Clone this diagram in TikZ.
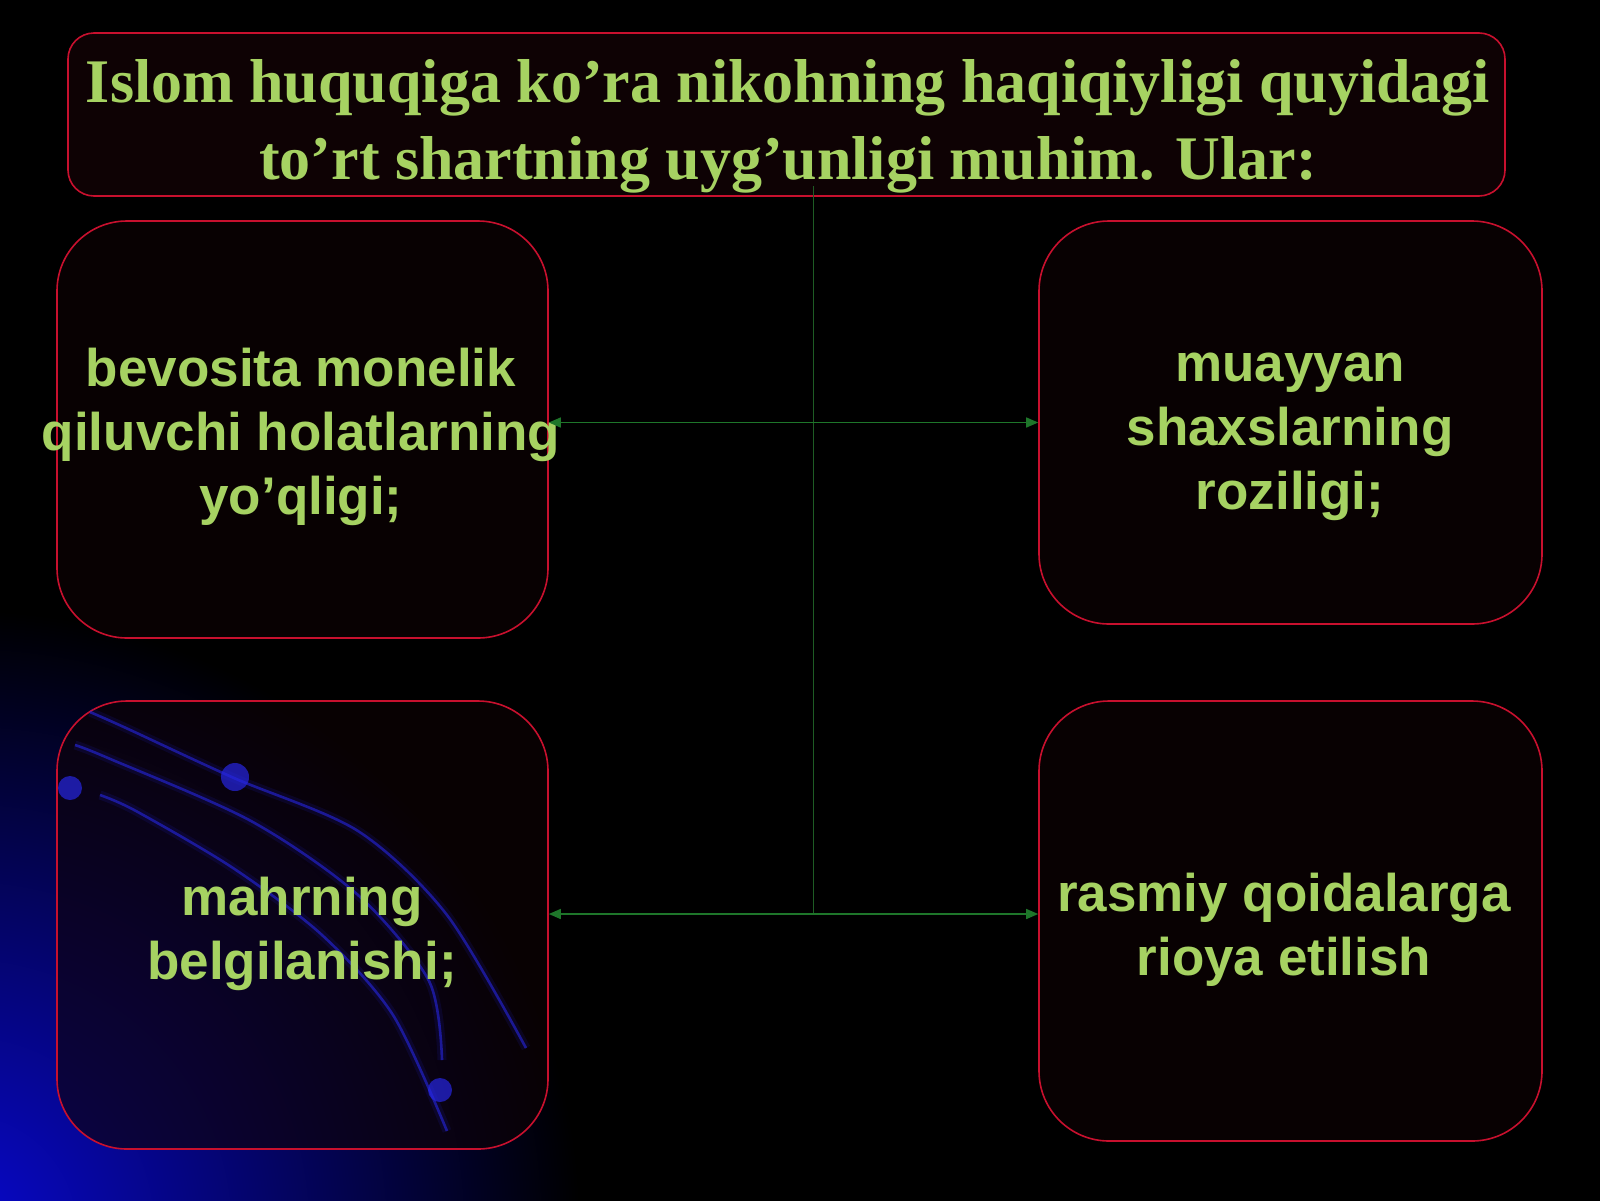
\documentclass[tikz,border=0pt]{standalone}
\usepackage{fontspec}
\setmainfont{Liberation Serif}
\setsansfont{Liberation Sans}
\usetikzlibrary{arrows.meta,calc}
\definecolor{txtgreen}{RGB}{166,210,98}
\definecolor{lngreen}{RGB}{30,118,42}
\definecolor{vgreen}{RGB}{30,92,36}
\definecolor{bordred}{RGB}{200,16,46}
\definecolor{boxfill}{RGB}{14,2,4}
\definecolor{glow}{RGB}{8,8,205}
\definecolor{arcblue}{RGB}{38,38,225}
\tikzset{
  card/.style={draw=bordred, line width=1.6pt, fill=boxfill, fill opacity=0.6,
    rounded corners=70pt},
  cardtext/.style={align=center, text=txtgreen, inner sep=0pt,
    font=\sffamily\bfseries\fontsize{53}{64}\selectfont},
  titlebox/.style={draw=bordred, line width=1.6pt, fill=boxfill, rounded corners=26pt},
  titletext/.style={align=center, text=txtgreen, font=\rmfamily\bfseries\fontsize{62}{77}\selectfont},
  conn/.style={draw=lngreen, line width=1.4pt, {Triangle[length=12pt,width=10pt]}-{Triangle[length=12pt,width=10pt]}},
  vline/.style={draw=vgreen, line width=1pt},
  arcline/.style={draw=arcblue, line width=2.6pt, opacity=0.6},
  arcglow/.style={draw=arcblue, line width=9pt, opacity=0.12},
  dotc/.style={fill=arcblue, opacity=0.7}
}
\begin{document}
\begin{tikzpicture}[x=1pt,y=-1pt]
\useasboundingbox (0,0) rectangle (1600,1200);
\fill[black] (-5,-5) rectangle (1605,1205);
% blue glow bottom-left
\begin{scope}
\clip (-5,-5) rectangle (1605,1205);
\shade[inner color=glow, outer color=black] (-40,1230) circle (620);
\end{scope}

\node[titlebox, minimum width=1437pt, minimum height=163pt] (title) at (786.5,114.5) {};
\node[titletext] (ttext) at (788,126)
  {Islom huquqiga ko’ra nikohning haqiqiyligi quyidagi\\to’rt shartning uyg’unligi muhim. Ular:};

\node[card, minimum width=491pt, minimum height=417pt] (tl) at (302.5,429.5) {};
\node[card, minimum width=503pt, minimum height=403pt] (tr) at (1290.5,422.5) {};
\node[card, minimum width=491pt, minimum height=448pt] (bl) at (302.5,925) {};
\node[card, minimum width=503pt, minimum height=440pt] (br) at (1290.5,921) {};

% decorative arcs (over the translucent box)
\foreach \st in {arcglow,arcline}{
\draw[\st] plot[smooth] coordinates {(90,712) (126,728) (234,778) (358,831) (447,915) (526,1048)};
\draw[\st] plot[smooth] coordinates {(75,745) (108,758) (251,821) (358,895) (429,981) (442,1060)};
\draw[\st] plot[smooth] coordinates {(100,795) (136,811) (233,868) (322,935) (393,1015) (447,1131)};
}
\fill[dotc] (70,788) circle (12);
\fill[dotc] (235,777) circle (14);
\fill[dotc] (440,1090) circle (12);

\node[cardtext] (tltext) at (301,437) {bevosita monelik\\qiluvchi holatlarning\\yo’qligi;};
\node[cardtext] (trtext) at (1290,437) {muayyan\\shaxslarning\\roziligi;};
\node[cardtext] (bltext) at (302,934) {mahrning\\belgilanishi;};
\node[cardtext] (brtext) at (1284,930) {rasmiy qoidalarga\\rioya etilish};

\coordinate (j) at (813,914);
\coordinate (vtop) at (813,186);
\draw[vline] (vtop) -- (j);
\draw[conn] (tl.east |- tr.west) -- (tr.west);
\draw[conn] (bl.east |- j) -- (br.west |- j);
\end{tikzpicture}
\end{document}
